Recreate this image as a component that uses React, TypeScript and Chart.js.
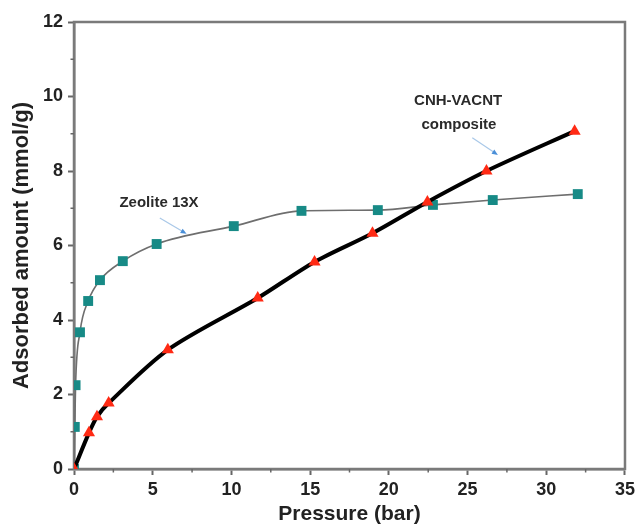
import React, { useEffect, useRef } from "react";
import { Chart, registerables } from "chart.js";

Chart.register(...registerables);

// Zeolite 13X isotherm
const zeolitePressure = [0, 0.05, 0.1, 0.38, 0.9, 1.65, 3.1, 5.25, 10.15, 14.45, 19.3, 22.8, 26.6, 32.0];
const zeoliteAmount = [0, 1.13, 2.25, 3.67, 4.51, 5.07, 5.58, 6.04, 6.52, 6.93, 6.95, 7.09, 7.22, 7.38];

// CNH-VACNT composite isotherm
const compositePressure = [0, 0.95, 1.46, 2.2, 5.96, 11.67, 15.28, 18.96, 22.45, 26.2, 31.8];
const compositeAmount = [0, 0.97, 1.4, 1.77, 3.2, 4.59, 5.56, 6.33, 7.17, 8.0, 9.07];

const xTicks = [0, 5, 10, 15, 20, 25, 30, 35];
const yTicks = [0, 2, 4, 6, 8, 10, 12];
const xMinorTicks = [2.5, 7.5, 12.5, 17.5, 22.5, 27.5, 32.5];
const yMinorTicks = [1, 3, 5, 7, 9, 11];

const zeoliteLabel = "Zeolite 13X";
const compositeLabel = ["CNH-VACNT", "composite"];

const FONT = "'Liberation Sans', Arial, sans-serif";

const decorPlugin = {
  id: "decor",
  beforeDatasetsDraw(chart: any) {
    const { ctx, chartArea } = chart;
    const xs = chart.scales.x;
    const ys = chart.scales.y;
    ctx.save();
    ctx.strokeStyle = "#7a7a7a";
    ctx.lineWidth = 2.5;
    ctx.strokeRect(chartArea.left, chartArea.top, chartArea.right - chartArea.left, chartArea.bottom - chartArea.top);
    ctx.lineWidth = 1.5;
    ctx.strokeStyle = "#666";
    xMinorTicks.forEach((v) => {
      const px = xs.getPixelForValue(v);
      ctx.beginPath();
      ctx.moveTo(px, chartArea.bottom);
      ctx.lineTo(px, chartArea.bottom + 3.5);
      ctx.stroke();
    });
    yMinorTicks.forEach((v) => {
      const py = ys.getPixelForValue(v);
      ctx.beginPath();
      ctx.moveTo(chartArea.left, py);
      ctx.lineTo(chartArea.left - 3.5, py);
      ctx.stroke();
    });
    ctx.restore();
  },
  afterDatasetsDraw(chart: any) {
    const { ctx } = chart;
    const xs = chart.scales.x;
    const ys = chart.scales.y;
    const P = (x: number, y: number) => [xs.getPixelForValue(x), ys.getPixelForValue(y)];
    ctx.save();
    ctx.fillStyle = "#2a2a2a";
    ctx.font = `bold 15px ${FONT}`;
    ctx.textAlign = "center";
    ctx.textBaseline = "middle";
    let [tx, ty] = P(5.4, 7.14);
    ctx.fillText(zeoliteLabel, tx, ty);
    [tx, ty] = P(24.4, 9.88);
    ctx.fillText(compositeLabel[0], tx, ty);
    [tx, ty] = P(24.45, 9.23);
    ctx.fillText(compositeLabel[1], tx, ty);

    const arrow = (x0: number, y0: number, x1: number, y1: number) => {
      const [a, b] = P(x0, y0);
      const [c, d] = P(x1, y1);
      ctx.strokeStyle = "#a9c8e8";
      ctx.lineWidth = 1.2;
      ctx.beginPath();
      ctx.moveTo(a, b);
      ctx.lineTo(c, d);
      ctx.stroke();
      const ang = Math.atan2(d - b, c - a);
      ctx.fillStyle = "#4a8fd8";
      ctx.beginPath();
      ctx.moveTo(c + 2 * Math.cos(ang), d + 2 * Math.sin(ang));
      ctx.lineTo(c - 4 * Math.cos(ang) + 2.5 * Math.sin(ang), d - 4 * Math.sin(ang) - 2.5 * Math.cos(ang));
      ctx.lineTo(c - 4 * Math.cos(ang) - 2.5 * Math.sin(ang), d - 4 * Math.sin(ang) + 2.5 * Math.cos(ang));
      ctx.closePath();
      ctx.fill();
    };
    arrow(5.45, 6.74, 7.04, 6.34);
    arrow(25.3, 8.89, 26.82, 8.46);
    ctx.restore();
  },
};

export default function App() {
  const ref = useRef<HTMLCanvasElement | null>(null);

  useEffect(() => {
    if (!ref.current) return;
    const zeoliteData = zeolitePressure.map((p, i) => ({ x: p, y: zeoliteAmount[i] }));
    const compositeData = compositePressure.map((p, i) => ({ x: p, y: compositeAmount[i] }));

    const chart = new Chart(ref.current, {
      type: "line",
      data: {
        datasets: [
          {
            label: "CNH-VACNT composite",
            data: compositeData,
            borderColor: "#000",
            borderWidth: 4,
            pointStyle: "triangle",
            pointRadius: 7,
            pointBackgroundColor: "#ff2a14",
            pointBorderColor: "#ff2a14",
            pointBorderWidth: 0,
            tension: 0.3,
          },
          {
            label: "Zeolite 13X",
            data: zeoliteData,
            borderColor: "#6e6e6e",
            borderWidth: 1.6,
            pointStyle: "rect",
            pointRadius: 7,
            pointBackgroundColor: "#178a86",
            pointBorderColor: "#178a86",
            pointBorderWidth: 0,
            cubicInterpolationMode: "monotone",
            tension: 0.4,
          },
        ],
      },
      options: {
        animation: false,
        responsive: false,
        maintainAspectRatio: false,
        layout: { padding: { top: 22, right: 13, left: 0, bottom: 0 } },
        plugins: { legend: { display: false }, tooltip: { enabled: false } },
        scales: {
          x: {
            type: "linear",
            min: 0,
            max: 35,
            afterBuildTicks: (s: any) => {
              s.ticks = xTicks.map((v) => ({ value: v }));
            },
            afterFit: (s: any) => {
              s.height = 56;
            },
            ticks: {
              color: "#222",
              font: { family: FONT, size: 18, weight: "bold" },
              padding: 4,
              maxRotation: 0,
            },
            grid: {
              display: true,
              drawOnChartArea: false,
              drawTicks: true,
              tickLength: 6,
              tickColor: "#666",
              tickWidth: 2,
            },
            border: { display: true, color: "#7a7a7a", width: 2.5 },
            title: {
              display: true,
              text: "Pressure (bar)",
              color: "#222",
              font: { family: FONT, size: 21, weight: "bold", lineHeight: 1 },
              padding: { top: 0, bottom: 0 },
            },
          },
          y: {
            type: "linear",
            min: 0,
            max: 12,
            afterBuildTicks: (s: any) => {
              s.ticks = yTicks.map((v) => ({ value: v }));
            },
            afterFit: (s: any) => {
              s.width = 74;
            },
            ticks: {
              color: "#222",
              font: { family: FONT, size: 18, weight: "bold" },
              padding: 5,
            },
            grid: {
              display: true,
              drawOnChartArea: false,
              drawTicks: true,
              tickLength: 6,
              tickColor: "#666",
              tickWidth: 2,
            },
            border: { display: true, color: "#7a7a7a", width: 2.5 },
            title: {
              display: true,
              text: "Adsorbed amount (mmol/g)",
              color: "#222",
              font: { family: FONT, size: 22, weight: "bold", lineHeight: 1 },
              padding: { top: 11, bottom: 0 },
            },
          },
        },
      },
      plugins: [decorPlugin],
    } as any);
    return () => chart.destroy();
  }, []);

  return (
    <div style={{ position: "fixed", left: 0, top: 0, width: 639, height: 525, background: "#fff" }}>
      <canvas ref={ref} width={639} height={525} style={{ display: "block" }} />
    </div>
  );
}
